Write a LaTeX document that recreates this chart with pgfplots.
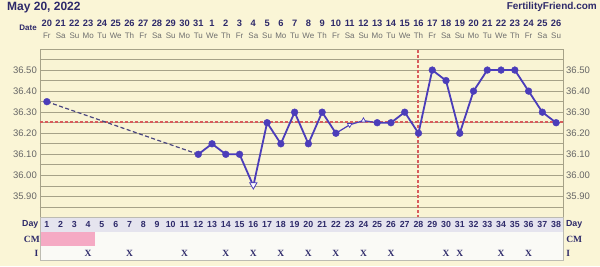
\documentclass[border=0pt]{standalone}
\usepackage{pgfplots}
\pgfplotsset{compat=1.18}
\usepackage{fontspec}
\setmainfont{Liberation Sans}
\newfontfamily\serifb{Liberation Serif}
\definecolor{bg}{HTML}{FAF5D6}
\definecolor{plotbg}{HTML}{F9F4D4}
\definecolor{gridc}{HTML}{A6A288}
\definecolor{tgrid}{HTML}{BDBCB2}
\definecolor{navy}{HTML}{2E2A6A}
\definecolor{wk}{HTML}{6E6E6E}
\definecolor{tick}{HTML}{666666}
\definecolor{ln}{HTML}{4B3DBA}
\definecolor{dln}{HTML}{4A4680}
\definecolor{cover}{HTML}{D85C5C}
\definecolor{lav}{HTML}{E5E4EE}
\definecolor{rowc}{HTML}{FAFAF6}
\definecolor{pinkc}{HTML}{F5AAC4}
\newcommand{\dt}[3]{%
  \node[anchor=base, inner sep=0pt, text=navy, font=\bfseries\fontsize{9.3}{10}\selectfont] at (axis cs:#1,36.60) [yshift=22.5pt] {#2};%
  \node[anchor=base, inner sep=0pt, text=wk, font=\fontsize{8}{9}\selectfont] at (axis cs:#1,36.60) [yshift=10.5pt] {#3};}
\begin{document}
\begin{tikzpicture}
\path[fill=bg, use as bounding box] (0,0) rectangle (600pt,266pt);
\node[anchor=west, inner sep=0pt, text=navy, font=\bfseries\fontsize{12}{14}\selectfont] at (7pt,258.5pt) {May 20, 2022};
\node[anchor=east, inner sep=0pt, text=navy, font=\bfseries\fontsize{10}{12}\selectfont] at (597pt,259pt) {FertilityFriend.com};
\node[anchor=east, inner sep=0pt, text=navy, font=\bfseries\fontsize{8}{9}\selectfont] at (37pt,238pt) {Date};
% temperature axis
\begin{axis}[
  at={(40pt,48.5pt)}, anchor=south west, scale only axis,
  width=523pt, height=168.5pt,
  xmin=0.5, xmax=38.5, ymin=35.80, ymax=36.60,
  axis background/.style={fill=plotbg},
  axis line style={draw=gridc, line width=0.8pt},
  xtick=\empty,
  minor xtick={0.5,1.5,...,38.5}, xminorgrids=true,
  ytick={35.9,36.0,...,36.51}, minor ytick={35.85,35.95,...,36.56},
  ymajorgrids=true, yminorgrids=true,
  tick style={draw=none},
  grid style={draw=gridc, line width=0.8pt},
  minor grid style={draw=gridc, line width=0.8pt},
  yticklabel style={/pgf/number format/fixed, /pgf/number format/fixed zerofill, /pgf/number format/precision=2, /pgf/number format/assume math mode=true, text=tick, font=\fontsize{9.5}{11}\selectfont, inner sep=0pt, xshift=-3pt},
  clip=false,
]
\addplot[cover, line width=2pt, dash pattern=on 3pt off 2pt] coordinates {(0.5,36.255) (38.5,36.255)};
\addplot[cover, line width=2pt, dash pattern=on 3pt off 2pt] coordinates {(28,35.80) (28,36.60)};
\addplot[dln, line width=1.2pt, dash pattern=on 4pt off 2.5pt] coordinates {(1,36.35) (12,36.10)};
\addplot[ln, line width=1.8pt] coordinates {
(12,36.10) (13,36.15) (14,36.10) (15,36.10) (16,35.95) (17,36.25) (18,36.15) (19,36.30) (20,36.15) (21,36.30) (22,36.20)};
\addplot[ln, line width=1.2pt] coordinates {(22,36.20) (23,36.24) (24,36.26) (25,36.25)};
\addplot[ln, line width=1.8pt] coordinates {
(25,36.25) (26,36.25) (27,36.30) (28,36.20) (29,36.50) (30,36.45) (31,36.20) (32,36.40) (33,36.50) (34,36.50) (35,36.50) (36,36.40) (37,36.30) (38,36.25)};
\addplot[only marks, mark=*, mark size=3.4pt, ln] coordinates {
(1,36.35) (12,36.10) (13,36.15) (14,36.10) (15,36.10) (17,36.25) (18,36.15) (19,36.30) (20,36.15) (21,36.30) (22,36.20) (25,36.25) (26,36.25) (27,36.30) (28,36.20) (29,36.50) (30,36.45) (31,36.20) (32,36.40) (33,36.50) (34,36.50) (35,36.50) (36,36.40) (37,36.30) (38,36.25)};
\addplot[only marks, mark=triangle*, mark options={rotate=180, fill=white, draw=ln, line width=0.8pt}, mark size=4.2pt] coordinates {(16,35.955)};
\addplot[only marks, mark=triangle*, mark options={rotate=180, fill=white, draw=ln, line width=0.7pt}, mark size=2.6pt] coordinates {(23,36.24)};
\addplot[only marks, mark=triangle*, mark options={fill=white, draw=ln, line width=0.7pt}, mark size=2.8pt] coordinates {(24,36.26)};
\dt{1}{20}{Fr}\dt{2}{21}{Sa}\dt{3}{22}{Su}\dt{4}{23}{Mo}\dt{5}{24}{Tu}\dt{6}{25}{We}\dt{7}{26}{Th}
\dt{8}{27}{Fr}\dt{9}{28}{Sa}\dt{10}{29}{Su}\dt{11}{30}{Mo}\dt{12}{31}{Tu}\dt{13}{1}{We}\dt{14}{2}{Th}
\dt{15}{3}{Fr}\dt{16}{4}{Sa}\dt{17}{5}{Su}\dt{18}{6}{Mo}\dt{19}{7}{Tu}\dt{20}{8}{We}\dt{21}{9}{Th}
\dt{22}{10}{Fr}\dt{23}{11}{Sa}\dt{24}{12}{Su}\dt{25}{13}{Mo}\dt{26}{14}{Tu}\dt{27}{15}{We}\dt{28}{16}{Th}
\dt{29}{17}{Fr}\dt{30}{18}{Sa}\dt{31}{19}{Su}\dt{32}{20}{Mo}\dt{33}{21}{Tu}\dt{34}{22}{We}\dt{35}{23}{Th}
\dt{36}{24}{Fr}\dt{37}{25}{Sa}\dt{38}{26}{Su}
\end{axis}
% right tick labels
\begin{axis}[
  at={(40pt,48.5pt)}, anchor=south west, scale only axis,
  width=523pt, height=168.5pt,
  xmin=0.5, xmax=38.5, ymin=35.80, ymax=36.60,
  hide x axis, axis y line*=right, y axis line style={draw=none},
  ytick={35.9,36.0,...,36.51}, tick style={draw=none},
  yticklabel style={/pgf/number format/fixed, /pgf/number format/fixed zerofill, /pgf/number format/precision=2, /pgf/number format/assume math mode=true, text=tick, font=\fontsize{9.5}{11}\selectfont, inner sep=0pt, xshift=3pt},
]
\end{axis}
% bottom table
\begin{axis}[
  at={(40pt,5.5pt)}, anchor=south west, scale only axis,
  width=523pt, height=43pt,
  xmin=0.5, xmax=38.5, ymin=0, ymax=3,
  axis on top,
  axis line style={draw=tgrid, line width=0.8pt},
  xtick=\empty, minor xtick={0.5,1.5,...,38.5}, xminorgrids=true,
  ytick=\empty, minor ytick={1,2}, yminorgrids=true,
  tick style={draw=none},
  minor grid style={draw=tgrid, line width=0.8pt},
  clip=false,
]
\addplot[fill=rowc, draw=none] coordinates {(0.5,0) (38.5,0) (38.5,2) (0.5,2)} -- cycle;
\addplot[fill=lav, draw=none] coordinates {(0.5,2) (38.5,2) (38.5,3) (0.5,3)} -- cycle;
\addplot[fill=pinkc, draw=none] coordinates {(0.5,1) (4.5,1) (4.5,2) (0.5,2)} -- cycle;
\pgfplotsinvokeforeach{1,...,38}{\node[text=navy, font=\bfseries\fontsize{8.8}{9}\selectfont, inner sep=0pt] at (axis cs:#1,2.5) {#1};}
\addplot[only marks, mark=text, text mark={\serifb\bfseries\fontsize{9.5}{10}\selectfont\textcolor{navy}{X}}] coordinates {
(4,0.5) (7,0.5) (11,0.5) (14,0.5) (16,0.5) (18,0.5) (20,0.5) (22,0.5) (24,0.5) (26,0.5) (30,0.5) (31,0.5) (34,0.5) (36,0.5)};
\node[anchor=east, text=navy, font=\bfseries\fontsize{8.8}{9}\selectfont, inner sep=0pt] at (axis cs:0.5,2.5) {Day\,};
\node[anchor=east, text=navy, font=\serifb\bfseries\fontsize{9.5}{10}\selectfont, inner sep=0pt] at (axis cs:0.5,1.5) {CM};
\node[anchor=east, text=navy, font=\serifb\bfseries\fontsize{9.5}{10}\selectfont, inner sep=0pt] at (axis cs:0.5,0.5) {I\,};
\node[anchor=west, text=navy, font=\bfseries\fontsize{8.8}{9}\selectfont, inner sep=0pt] at (axis cs:38.5,2.5) {\,\,Day};
\node[anchor=west, text=navy, font=\serifb\bfseries\fontsize{9.5}{10}\selectfont, inner sep=0pt] at (axis cs:38.5,1.5) {\,\,CM};
\node[anchor=west, text=navy, font=\serifb\bfseries\fontsize{9.5}{10}\selectfont, inner sep=0pt] at (axis cs:38.5,0.5) {\,\,I};
\end{axis}
\end{tikzpicture}
\end{document}
